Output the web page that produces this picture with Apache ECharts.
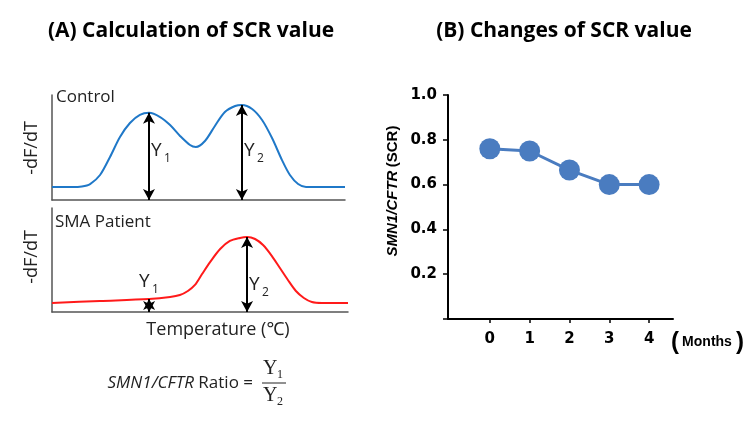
<!DOCTYPE html>
<html><head><meta charset="utf-8">
<script src="https://cdn.jsdelivr.net/npm/echarts@6/dist/echarts.min.js"></script>
<style>html,body{margin:0;padding:0;background:#fff}#c{width:753px;height:425px}</style>
</head><body><div id="c"></div>
<script>
// Panel A: melting curves (arbitrary temperature index, arbitrary -dF/dT)
const controlCurve = [[0,12.4],[6.8,12.4],[10.2,12.9],[13,15.2],[16.4,23.8],[19.8,41],[23.2,60],[26.6,73.3],[30,81],[33.1,83],[36.9,79],[40.3,71.4],[43.7,61],[47.1,52.4],[49.1,50.5],[52.2,56.2],[55.6,70.5],[59,83.8],[62.5,89.5],[64.8,90.5],[68.3,86.7],[71.7,76.2],[75.1,59],[78.5,38],[81.2,23.8],[84,15.2],[86.7,12.4],[90.1,12.4],[100,12.4]];
const patientCurve = [[0,8.7],[16.2,10.6],[32.8,12.5],[39.9,14.4],[43.2,16.3],[45.9,20.2],[48.3,26],[50.7,36.5],[53.4,48],[56.8,60.6],[60.1,68.3],[63.5,71.2],[65.9,72.1],[68.6,70.2],[71.3,64.4],[74.3,53.8],[77,42.3],[79.7,30.8],[82.4,20.2],[85.1,13.5],[87.8,9.6],[91.2,8.7],[100,8.7]];
const controlPeaks = [[33.1,83],[64.8,90.5]];
const patientPeaks = [[32.8,12.5],[65.9,72.1]];
// Panel B
const months = [0,1,2,3,4];
const scr = [0.76,0.75,0.665,0.6,0.6];

const chart = echarts.init(document.getElementById('c'));
const sans = '"Open Sans", "Noto Sans", sans-serif';
const hidden = {show:false};
function arrows(peaks){
  return {silent:true, symbol:['arrow','arrow'], symbolSize:[9,11], label:{show:false},
    lineStyle:{color:'#000',width:2,type:'solid'},
    data: peaks.map(p=>[{coord:[p[0],0]},{coord:[p[0],p[1]]}])};
}
const axisLn = {show:true, onZero:false, lineStyle:{color:'#555',width:1.5}};
const bLabel = {color:'#000',fontSize:15,fontWeight:'bold',fontFamily:'"DejaVu Sans", sans-serif'};
const opt = {
  animation:false,
  grid:[
    {left:52, top:95, width:293, height:105},
    {left:52, top:208, width:296, height:104},
    {left:448, top:95, right:80, bottom:106}
  ],
  xAxis:[
    {gridIndex:0,type:'value',min:0,max:100,axisLine:axisLn,axisTick:hidden,axisLabel:hidden,splitLine:hidden},
    {gridIndex:1,type:'value',min:0,max:100,axisLine:axisLn,axisTick:hidden,axisLabel:hidden,splitLine:hidden},
    {gridIndex:2,type:'value',min:-1.05,max:4.6,
      axisLine:{show:true,onZero:false,lineStyle:{color:'#000',width:2}},
      axisTick:{show:true,customValues:months,length:4,lineStyle:{color:'#000',width:1.5}},
      axisLabel:Object.assign({customValues:months,margin:13},bLabel),
      splitLine:hidden}
  ],
  yAxis:[
    {gridIndex:0,type:'value',min:0,max:100,axisLine:axisLn,axisTick:hidden,axisLabel:hidden,splitLine:hidden},
    {gridIndex:1,type:'value',min:0,max:100,axisLine:axisLn,axisTick:hidden,axisLabel:hidden,splitLine:hidden},
    {gridIndex:2,type:'value',min:0,max:1,interval:0.2,
      axisLine:{show:true,onZero:false,lineStyle:{color:'#000',width:2}},
      axisTick:{show:true,length:5,lineStyle:{color:'#000',width:1.5}},
      axisLabel:Object.assign({margin:11,formatter:v=> v===0 ? '' : v.toFixed(1)},bLabel),
      splitLine:hidden}
  ],
  series:[
    {type:'line',xAxisIndex:0,yAxisIndex:0,data:controlCurve,smooth:0.3,showSymbol:false,
      lineStyle:{color:'#1f78c8',width:2},markLine:arrows(controlPeaks)},
    {type:'line',xAxisIndex:1,yAxisIndex:1,data:patientCurve,smooth:0.3,showSymbol:false,
      lineStyle:{color:'#ff1a1a',width:2},markLine:arrows(patientPeaks)},
    {type:'line',xAxisIndex:2,yAxisIndex:2,data:months.map((m,i)=>[m,scr[i]]),
      symbol:'circle',symbolSize:21,itemStyle:{color:'#4a7cc0'},lineStyle:{color:'#4a7cc0',width:3}}
  ],
  graphic:[
    {type:'text',x:191,y:31,style:{text:'(A) Calculation of SCR value',font:'bold 21px '+sans,fill:'#000',align:'center',verticalAlign:'middle'}},
    {type:'text',x:564,y:31,style:{text:'(B) Changes of SCR value',font:'bold 21px '+sans,fill:'#000',align:'center',verticalAlign:'middle'}},
    {type:'text',left:56,top:89,style:{text:'Control',font:'17px '+sans,fill:'#222'}},
    {type:'text',left:55,top:214,style:{text:'SMA Patient',font:'17px '+sans,fill:'#222'}},
    {type:'text',x:32,y:148,rotation:Math.PI/2,style:{text:'-dF/dT',font:'18px '+sans,fill:'#222',align:'center',verticalAlign:'middle'}},
    {type:'text',x:32,y:257,rotation:Math.PI/2,style:{text:'-dF/dT',font:'18px '+sans,fill:'#222',align:'center',verticalAlign:'middle'}},
    {type:'text',x:218,y:330,style:{text:'Temperature (℃)',font:'18px '+sans,fill:'#222',align:'center',verticalAlign:'middle'}},
    {type:'text',left:151,top:141,style:{text:'Y',font:'19px '+sans,fill:'#222'}},
    {type:'text',left:164,top:153,style:{text:'1',font:'12px '+sans,fill:'#222'}},
    {type:'text',left:244,top:141,style:{text:'Y',font:'19px '+sans,fill:'#222'}},
    {type:'text',left:257,top:153,style:{text:'2',font:'12px '+sans,fill:'#222'}},
    {type:'text',left:139,top:272,style:{text:'Y',font:'19px '+sans,fill:'#222'}},
    {type:'text',left:152,top:284,style:{text:'1',font:'12px '+sans,fill:'#222'}},
    {type:'text',left:249,top:275,style:{text:'Y',font:'19px '+sans,fill:'#222'}},
    {type:'text',left:262,top:287,style:{text:'2',font:'12px '+sans,fill:'#222'}},
    {type:'text',x:393,y:191,rotation:Math.PI/2,style:{
      text:'{i|SMN1/CFTR} {n|(SCR)}',align:'center',verticalAlign:'middle',
      rich:{i:{font:'italic bold 15px "Liberation Sans", sans-serif',fill:'#000'},n:{font:'bold 15px "Liberation Sans", sans-serif',fill:'#000'}}}},
    {type:'text',x:675,y:342,style:{text:'(',font:'bold 24px "Liberation Sans", sans-serif',fill:'#000',align:'center',verticalAlign:'middle'}},
    {type:'text',x:707,y:342,style:{text:'Months',font:'bold 14px "Liberation Sans", sans-serif',fill:'#000',align:'center',verticalAlign:'middle'}},
    {type:'text',x:740,y:342,style:{text:')',font:'bold 24px "Liberation Sans", sans-serif',fill:'#000',align:'center',verticalAlign:'middle'}},
    {type:'text',x:253,y:383,style:{
      text:'{i|SMN1/CFTR}{n| Ratio =}',align:'right',verticalAlign:'middle',
      rich:{i:{font:'italic 17px '+sans,fill:'#222'},n:{font:'17px '+sans,fill:'#222'}}}},
    {type:'text',left:263,top:359,style:{text:'Y',font:'20px "Liberation Serif", serif',fill:'#222'}},
    {type:'text',left:277,top:369,style:{text:'1',font:'12px "Liberation Serif", serif',fill:'#222'}},
    {type:'line',shape:{x1:262,y1:383,x2:286,y2:383},style:{stroke:'#222',lineWidth:1}},
    {type:'text',left:263,top:386,style:{text:'Y',font:'20px "Liberation Serif", serif',fill:'#222'}},
    {type:'text',left:277,top:396,style:{text:'2',font:'12px "Liberation Serif", serif',fill:'#222'}}
  ]
};
chart.setOption(opt);
</script></body></html>
